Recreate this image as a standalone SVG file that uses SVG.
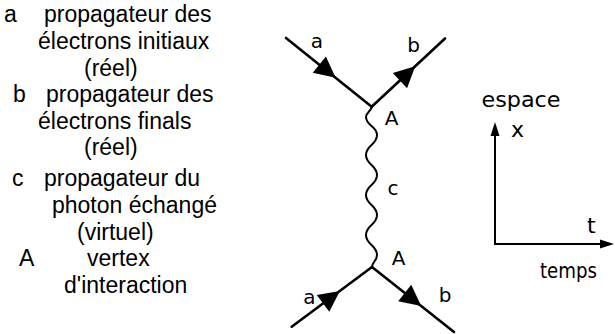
<svg xmlns="http://www.w3.org/2000/svg" xmlns:xlink="http://www.w3.org/1999/xlink" width="615" height="334" viewBox="0 0 615 334">
  <style>
    .legend { font-family: "Liberation Sans", Arial, sans-serif; font-size: 23px; fill: #000; }
    .lbl { font-family: "DejaVu Sans", "Liberation Sans", sans-serif; font-size: 20px; fill: #000; }
    .axlbl { font-family: "DejaVu Sans", "Liberation Sans", sans-serif; font-size: 22px; fill: #000; }
    .fermion { stroke: #000; stroke-width: 2.6; fill: none; stroke-linecap: round; }
    .photon { stroke: #000; stroke-width: 2; fill: none; stroke-linecap: round; }
    .axis { stroke: #000; stroke-width: 2; fill: none; }
  </style>
  <defs>
    <!-- filled arrowhead, tip at origin, pointing along +x -->
    <path id="head" d="M0,0 L-21,-10.5 L-21,10.5 Z" fill="#000"/>
    <path id="axhead" d="M0,0 L-14,-4.5 L-14,4.5 Z" fill="#000"/>
  </defs>
  <rect width="615" height="334" fill="#fff"/>

  <!-- legend -->
  <g id="legend">
    <g id="legend-a">
      <text class="legend" x="4" y="22">a</text>
      <text class="legend" x="44" y="22">propagateur des</text>
      <text class="legend" x="38" y="49">électrons initiaux</text>
      <text class="legend" x="84" y="76">(réel)</text>
    </g>
    <g id="legend-b">
      <text class="legend" x="13" y="102">b</text>
      <text class="legend" x="46" y="102">propagateur des</text>
      <text class="legend" x="38" y="129">électrons finals</text>
      <text class="legend" x="84" y="155">(réel)</text>
    </g>
    <g id="legend-c">
      <text class="legend" x="12" y="186">c</text>
      <text class="legend" x="44" y="186">propagateur du</text>
      <text class="legend" x="52" y="213">photon échangé</text>
      <text class="legend" x="77" y="240">(virtuel)</text>
    </g>
    <g id="legend-A">
      <text class="legend" x="19" y="266">A</text>
      <text class="legend" x="87" y="266">vertex</text>
      <text class="legend" x="64" y="293">d'interaction</text>
    </g>
  </g>

  <!-- interaction vertices -->
  <g id="vertex-top">
    <text class="lbl" x="391.5" y="125" text-anchor="middle">A</text>
  </g>
  <g id="vertex-bottom">
    <text class="lbl" x="398.5" y="265" text-anchor="middle">A</text>
  </g>

  <!-- propagators -->
  <g id="connectors">
    <line class="fermion" x1="286" y1="38" x2="371.7" y2="106.7"/>
    <line class="fermion" x1="371.7" y1="106.7" x2="445" y2="38.5"/>
    <line class="fermion" x1="291.7" y1="326.7" x2="372" y2="267"/>
    <line class="fermion" x1="372" y1="267" x2="454" y2="332"/>
    <use xlink:href="#head" transform="translate(335.7,77.8) rotate(38.7)"/>
    <use xlink:href="#head" transform="translate(415.3,66.3) rotate(-42.9)"/>
    <use xlink:href="#head" transform="translate(339.9,290.9) rotate(-36.6)"/>
    <use xlink:href="#head" transform="translate(421.2,306) rotate(38.4)"/>
    <path class="photon" d="M371.7,106.7 C371.7,111 366,112 366,117
      C366,126 377,126 377,135
      C377,145 366,145 366,155
      C366,165 377,165 377,175
      C377,185 366,185 366,195
      C366,205 377,205 377,215
      C377,225 366,225 366,235
      C366,245 377,245 377,255
      C377,261 372,262 372,267"/>
    <text class="lbl" x="317" y="48" text-anchor="middle">a</text>
    <text class="lbl" x="413.5" y="52" text-anchor="middle">b</text>
    <text class="lbl" x="393" y="195" text-anchor="middle">c</text>
    <text class="lbl" x="309.5" y="304" text-anchor="middle">a</text>
    <text class="lbl" x="445" y="302" text-anchor="middle">b</text>
  </g>

  <!-- space / time axes -->
  <g id="axes">
    <line class="axis" x1="495" y1="244" x2="495" y2="132"/>
    <line class="axis" x1="494" y1="244" x2="604" y2="244"/>
    <use xlink:href="#axhead" transform="translate(495,122) rotate(-90)"/>
    <use xlink:href="#axhead" transform="translate(614,244)"/>
    <text class="axlbl" x="481.5" y="107" textLength="79" lengthAdjust="spacingAndGlyphs">espace</text>
    <text class="axlbl" x="511" y="137">x</text>
    <text class="axlbl" x="587" y="233">t</text>
    <text class="axlbl" x="540" y="278" textLength="57" lengthAdjust="spacingAndGlyphs">temps</text>
  </g>
</svg>
